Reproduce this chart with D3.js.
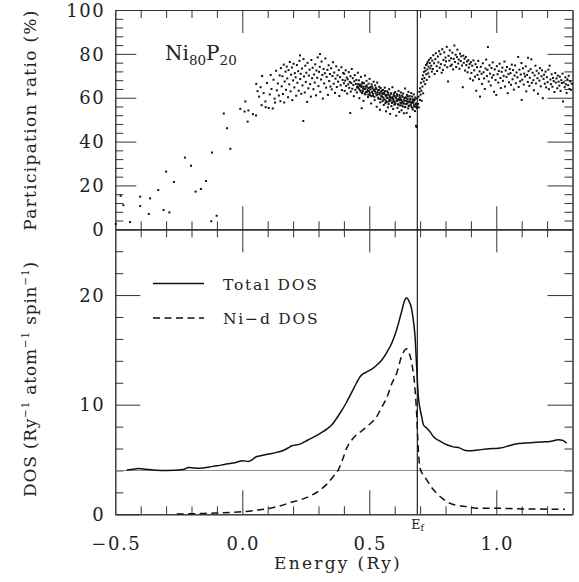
<!DOCTYPE html>
<html><head><meta charset="utf-8">
<script src="https://cdnjs.cloudflare.com/ajax/libs/d3/7.8.5/d3.min.js"></script>
<style>
html,body{margin:0;padding:0;background:#fff;}
svg{display:block;}
text{font-family:"DejaVu Serif",serif;fill:#222;}
</style></head>
<body>
<svg id="chart" width="579" height="582"></svg>
<script>
// ---------------- DATA ----------------
// Participation ratio scatter, [energy (Ry), ratio (%)]
const prSparse = [[-0.498,2.4],[-0.479,15.3],[-0.468,11],[-0.442,3.3],[-0.402,14.9],[-0.402,10.6],[-0.368,7],[-0.363,14.1],[-0.331,17.9],[-0.31,8.8],[-0.3,26.3],[-0.287,7.7],[-0.269,21.6],[-0.226,32.7],[-0.202,29],[-0.184,17.2],[-0.163,18.4],[-0.143,22],[-0.122,3.7],[-0.119,35],[-0.101,6.2],[-0.073,52.8],[-0.06,46.1],[-0.047,36.7]];
const prRise = [[-0.008,54.9],[0.009,53.7],[0.012,58.3],[0.021,49.1],[0.024,54.2],[0.042,52.5],[0.054,51.9],[0.055,66.3],[0.06,63],[0.066,60.5],[0.072,64.8],[0.076,56.6],[0.078,69.9],[0.084,62.1],[0.091,58.3],[0.092,55.7],[0.097,66.7],[0.104,55.3],[0.108,61.5],[0.112,70.4],[0.115,64],[0.12,55.1],[0.123,68.2],[0.127,59.6],[0.129,57.8],[0.133,72.3],[0.136,63.4],[0.14,66.5],[0.144,61],[0.147,70.2],[0.15,58.4]];
const prCloud1 = [[0.152,73.5],[0.155,65.2],[0.158,69.8],[0.16,61.7],[0.163,75.1],[0.165,57.8],[0.167,67.4],[0.17,71.9],[0.172,63.6],[0.175,74.2],[0.177,68.8],[0.18,60.2],[0.182,72.6],[0.185,66.1],[0.187,76.3],[0.19,62.9],[0.192,70.5],[0.195,73.8],[0.197,58.9],[0.2,67.9],[0.202,75.5],[0.205,64.7],[0.207,71.2],[0.21,69.3],[0.212,60.9],[0.215,74.9],[0.217,66.8],[0.22,72.1],[0.222,63.2],[0.225,76.8],[0.227,79.3],[0.228,68.5],[0.23,70.9],[0.232,61.8],[0.235,73.3],[0.237,65.6],[0.24,49.4],[0.241,77.6],[0.243,69.7],[0.246,62.4],[0.248,74.6],[0.25,67.2],[0.252,71.4],[0.255,58.1],[0.257,75.9],[0.26,64.3],[0.262,70.1],[0.265,72.8],[0.267,66.2],[0.27,60.5],[0.272,77.2],[0.275,68.9],[0.277,73.7],[0.28,63.9],[0.282,70.6],[0.285,66.9],[0.287,75.2],[0.29,61.1],[0.292,72.4],[0.295,69.1],[0.297,78.4],[0.3,65.3],[0.302,71.8],[0.305,74.1],[0.306,79.9],[0.307,62.7],[0.31,68.3],[0.312,76.5],[0.315,70.4],[0.317,59.6],[0.32,73.1],[0.322,66.5],[0.325,71.2],[0.327,77.9],[0.33,64.6],[0.332,69.5],[0.335,72.7],[0.337,61.3],[0.34,74.8],[0.342,67.6],[0.345,70.8],[0.347,65.1],[0.35,73.4],[0.352,63.8],[0.355,69.9],[0.357,76.2],[0.36,66.4],[0.362,71.5],[0.365,62.2],[0.367,68.7],[0.37,74.3],[0.372,64.9],[0.375,70.2],[0.377,67.3],[0.38,72.6],[0.382,60.8],[0.385,69.4],[0.387,65.7],[0.39,73.9],[0.392,63.5],[0.395,68.1],[0.397,71.3],[0.4,66.6]];
const prCloud2 = [[0.401,70.9],[0.403,63.1],[0.405,67.8],[0.407,72.5],[0.409,65.4],[0.411,69.2],[0.413,61.9],[0.415,68.4],[0.417,66.1],[0.419,71.7],[0.421,64.5],[0.423,67.2],[0.425,53.0],[0.426,69.8],[0.427,62.8],[0.429,66.7],[0.431,73.1],[0.433,64.1],[0.435,68.9],[0.437,65.8],[0.439,60.7],[0.441,67.5],[0.443,70.3],[0.445,63.6],[0.447,66.3],[0.449,68.1],[0.451,62.4],[0.453,65.1],[0.455,71.4],[0.457,64.8],[0.459,67.9],[0.461,59.8],[0.463,66.0],[0.465,63.3],[0.467,69.5],[0.469,65.5],[0.47,55.2],[0.471,62.1],[0.473,67.0],[0.475,64.2],[0.477,58.6],[0.479,66.6],[0.481,63.9],[0.483,70.1],[0.485,61.5],[0.487,65.2],[0.489,67.7],[0.491,62.7],[0.493,64.6],[0.495,60.3],[0.497,66.4],[0.499,63.0],[0.501,68.6],[0.503,61.2],[0.505,64.9],[0.507,57.4],[0.509,66.1],[0.511,62.6],[0.513,64.3],[0.515,60.9],[0.517,67.3],[0.519,63.7],[0.521,58.9],[0.523,65.6],[0.525,62.0],[0.527,64.0],[0.529,55.9],[0.531,66.9],[0.533,61.6],[0.535,63.4],[0.537,59.5],[0.539,65.0],[0.541,62.3],[0.542,54.5],[0.543,57.9],[0.545,64.4],[0.547,60.6],[0.549,63.2]];
const prCloud3 = [[0.551,61.8],[0.552,58.4],[0.554,63.5],[0.555,60.1],[0.557,56.7],[0.558,62.2],[0.56,59.3],[0.561,64.6],[0.563,57.5],[0.564,61.1],[0.566,53.8],[0.567,60.6],[0.569,58.0],[0.57,62.9],[0.572,59.8],[0.573,55.6],[0.575,61.4],[0.576,57.1],[0.578,63.9],[0.579,59.0],[0.581,60.4],[0.582,52.6],[0.584,58.7],[0.585,62.0],[0.587,56.2],[0.588,60.0],[0.59,57.8],[0.591,64.8],[0.593,59.5],[0.594,54.9],[0.596,61.2],[0.597,58.1],[0.599,56.8],[0.6,60.7],[0.602,62.6],[0.603,57.3],[0.605,59.7],[0.606,51.8],[0.608,58.5],[0.609,61.6],[0.611,55.4],[0.612,59.2],[0.614,57.0],[0.615,63.1],[0.617,58.9],[0.618,53.5],[0.62,60.3],[0.621,56.5],[0.623,59.6],[0.624,62.4],[0.626,57.6],[0.627,54.3],[0.629,60.9],[0.63,58.2],[0.632,56.0],[0.633,61.9],[0.635,58.8],[0.636,52.9],[0.638,59.9],[0.639,57.2],[0.641,64.2],[0.642,55.7],[0.644,60.2],[0.645,58.6],[0.647,53.1],[0.648,61.3],[0.65,57.4],[0.651,59.4],[0.653,55.1],[0.654,62.7],[0.656,58.3],[0.657,56.4],[0.659,60.8],[0.66,51.3],[0.662,59.1],[0.663,57.9],[0.665,62.1],[0.666,55.8],[0.668,58.0],[0.669,60.5],[0.671,54.6],[0.672,59.3],[0.674,57.7],[0.675,61.5],[0.677,56.1],[0.678,58.9],[0.68,53.9],[0.681,60.1],[0.683,57.0],[0.684,47.2],[0.686,46.6],[0.687,55.3],[0.688,59.7]];
const prDense = [[0.452,64.6],[0.456,66.2],[0.46,63.9],[0.463,65.4],[0.466,62.8],[0.469,64.9],[0.472,66.5],[0.475,63.1],[0.478,65.0],[0.481,61.9],[0.484,64.2],[0.487,62.6],[0.49,65.6],[0.493,63.5],[0.496,61.4],[0.499,64.4],[0.502,62.2],[0.505,63.8],[0.508,60.7],[0.511,65.1],[0.514,61.8],[0.517,63.3],[0.52,60.4],[0.523,62.9],[0.526,64.5],[0.529,61.1],[0.532,62.5],[0.535,60.0],[0.538,63.6],[0.541,61.5],[0.544,59.4],[0.547,62.8],[0.55,60.6],[0.553,62.0],[0.556,59.1],[0.559,61.7],[0.562,63.0],[0.565,58.6],[0.568,61.3],[0.571,59.9],[0.574,62.3],[0.577,58.3],[0.58,60.9],[0.583,59.6],[0.586,61.8],[0.589,57.7],[0.592,60.3],[0.595,58.9],[0.598,62.1],[0.601,57.2],[0.604,60.0],[0.607,58.4],[0.61,60.8],[0.613,56.9],[0.616,59.5],[0.619,61.2],[0.622,57.8],[0.625,59.0],[0.628,56.5],[0.631,60.4],[0.634,57.5],[0.637,58.7],[0.64,55.8],[0.643,59.8],[0.646,57.1],[0.649,58.3],[0.652,60.6],[0.655,56.2],[0.658,58.0],[0.661,59.6],[0.664,56.8],[0.667,57.6],[0.67,55.4],[0.673,58.5],[0.676,56.6],[0.679,59.2],[0.682,55.9],[0.685,57.4],[0.688,56.1]];
const prFermi = [[0.692,57.2],[0.694,60.5],[0.695,55.6],[0.697,62.7],[0.699,59.0],[0.7,64.3],[0.702,61.4],[0.703,66.8],[0.705,63.2],[0.706,58.6],[0.708,68.5],[0.709,65.1],[0.711,70.2],[0.712,62.0],[0.714,67.4],[0.715,71.8],[0.717,69.0],[0.718,73.6],[0.72,66.2],[0.721,72.3],[0.723,74.9],[0.724,70.7],[0.726,68.1],[0.727,75.5],[0.729,72.9],[0.73,76.4],[0.732,71.1],[0.733,74.2],[0.735,77.3],[0.736,69.6],[0.738,75.8],[0.74,73.4],[0.742,78.1],[0.744,74.6],[0.746,71.9],[0.748,76.9]];
const prCloud4 = [[0.75,73.1],[0.752,79.4],[0.755,75.7],[0.757,70.8],[0.76,77.6],[0.762,80.3],[0.765,74.4],[0.767,72.2],[0.77,78.8],[0.772,76.1],[0.775,81.2],[0.777,73.7],[0.78,79.9],[0.782,75.3],[0.785,71.4],[0.787,82.1],[0.79,72.7],[0.792,77.2],[0.795,80.7],[0.797,74.8],[0.8,78.3],[0.802,76.6],[0.805,83.2],[0.807,73.9],[0.81,67.4],[0.812,79.1],[0.815,76.9],[0.817,81.6],[0.82,74.5],[0.822,78.0],[0.825,75.1],[0.827,80.5],[0.83,72.9],[0.832,77.7],[0.835,83.8],[0.837,76.3],[0.84,79.6],[0.842,74.0],[0.845,78.5],[0.847,81.9],[0.85,75.6],[0.852,77.4],[0.855,73.2],[0.857,80.1],[0.86,76.7],[0.862,78.9],[0.865,74.7],[0.868,64.8],[0.87,79.2],[0.872,75.9],[0.875,77.8],[0.877,72.4],[0.88,78.6],[0.882,74.9],[0.885,76.5],[0.887,71.6],[0.89,77.1],[0.892,73.8],[0.895,75.4],[0.897,68.7],[0.9,76.2]];
const prCloud5 = [[0.902,71.3],[0.905,74.6],[0.908,67.9],[0.91,77.0],[0.913,72.5],[0.916,69.6],[0.918,75.3],[0.921,63.2],[0.924,73.9],[0.926,70.4],[0.929,76.8],[0.932,68.5],[0.934,72.0],[0.936,60.5],[0.939,74.1],[0.942,70.9],[0.944,66.3],[0.947,75.7],[0.95,71.6],[0.952,68.8],[0.955,64.0],[0.958,73.3],[0.96,77.4],[0.963,69.9],[0.965,72.7],[0.967,83.1],[0.97,67.4],[0.973,74.8],[0.975,71.0],[0.978,65.6],[0.981,73.6],[0.983,69.2],[0.986,76.1],[0.989,70.3],[0.991,62.7],[0.994,72.9],[0.997,68.1],[1.0,61.3],[1.002,74.4],[1.005,70.7],[1.008,66.9],[1.01,72.2],[1.013,75.5],[1.016,69.0],[1.018,64.4],[1.021,71.8],[1.024,73.7],[1.026,67.7],[1.029,70.0],[1.032,76.5],[1.034,65.1],[1.037,72.4],[1.04,69.5],[1.042,74.0],[1.045,62.1],[1.048,70.8],[1.05,67.0],[1.053,73.1],[1.056,71.2],[1.058,65.9],[1.061,75.1],[1.064,68.4],[1.066,72.6],[1.069,63.7],[1.072,70.1],[1.074,74.7],[1.077,66.6],[1.08,71.5],[1.083,69.3],[1.086,78.6],[1.088,64.9],[1.091,72.8],[1.094,67.5],[1.096,70.6],[1.099,75.8],[1.1,59.0],[1.102,68.2],[1.105,73.4],[1.108,66.0],[1.11,71.0],[1.113,69.7],[1.116,74.3],[1.118,62.9],[1.121,70.4],[1.124,67.2],[1.125,78.2],[1.127,72.1],[1.13,65.4],[1.132,69.1],[1.135,73.0],[1.138,77.5],[1.14,66.8],[1.143,71.4],[1.146,68.0],[1.148,63.4],[1.151,70.2],[1.154,74.6],[1.156,66.5],[1.159,72.3],[1.162,68.9],[1.164,61.8],[1.167,71.1],[1.17,67.8],[1.172,73.5],[1.175,65.2],[1.178,69.8],[1.18,72.5],[1.183,59.8],[1.186,68.6],[1.188,70.5],[1.191,66.4],[1.194,71.9],[1.196,64.7],[1.199,69.4],[1.202,67.1],[1.205,72.8],[1.207,63.9],[1.21,74.6],[1.213,68.3],[1.215,66.2],[1.218,70.7],[1.221,65.0],[1.223,69.0],[1.226,67.6],[1.229,62.6],[1.232,71.3],[1.234,66.9],[1.237,68.8],[1.24,64.3],[1.242,70.1],[1.245,67.3],[1.248,65.5],[1.25,69.6],[1.253,63.1],[1.256,68.0],[1.258,66.7],[1.261,71.0],[1.263,58.3],[1.266,67.0],[1.269,64.8],[1.272,69.3],[1.274,66.1],[1.277,62.2],[1.28,68.4],[1.283,65.7],[1.285,70.0],[1.288,64.0],[1.291,67.5],[1.294,63.6],[1.297,66.4]];

// Total DOS (solid)
const totalE   = [-0.455,-0.43,-0.41,-0.38,-0.35,-0.31,-0.27,-0.232,-0.213,-0.19,-0.167,-0.13,-0.1,-0.07,-0.035,0.004,0.024,0.04,0.057,0.08,0.109,0.135,0.161,0.18,0.195,0.227,0.26,0.29,0.319,0.35,0.385,0.41,0.43,0.45,0.465,0.49,0.51,0.529,0.55,0.568,0.59,0.608,0.625,0.641,0.647,0.655,0.667,0.675,0.68,0.687,0.693,0.7,0.706,0.713,0.726,0.74,0.752,0.78,0.805,0.83,0.857,0.875,0.896,0.92,0.94,0.962,0.99,1.015,1.05,1.08,1.11,1.146,1.18,1.211,1.244,1.26,1.277];
const totalDOS = [4.05,4.12,4.17,4.1,4.05,3.99,4.02,4.08,4.26,4.22,4.2,4.32,4.42,4.55,4.67,4.88,4.82,5.0,5.27,5.38,5.52,5.65,5.82,6.05,6.25,6.4,6.8,7.15,7.56,8.1,9.24,10.2,11.1,12.0,12.6,13.0,13.25,13.6,14.1,14.73,15.7,16.86,18.3,19.6,19.76,19.5,18.7,17.4,16.25,13.2,10.76,9.6,8.93,8.17,7.87,7.5,7.1,6.65,6.34,6.15,6.04,5.85,5.79,5.85,5.9,5.95,6.0,6.04,6.25,6.43,6.5,6.55,6.6,6.64,6.8,6.75,6.5];
// Ni-d DOS (dashed)
const nidE   = [-0.258,-0.2,-0.15,-0.1,-0.05,0.004,0.05,0.109,0.15,0.2,0.227,0.27,0.306,0.335,0.358,0.378,0.395,0.411,0.43,0.45,0.47,0.49,0.51,0.529,0.545,0.568,0.59,0.608,0.627,0.647,0.657,0.667,0.68,0.687,0.692,0.7,0.712,0.726,0.745,0.765,0.79,0.818,0.85,0.883,0.923,0.97,1.015,1.08,1.146,1.21,1.27];
const nidDOS = [0.03,0.05,0.08,0.12,0.17,0.24,0.36,0.55,0.78,1.15,1.31,1.7,2.22,2.8,3.44,4.05,5.0,6.04,6.75,7.26,7.6,8.0,8.4,8.9,9.6,10.6,12.0,12.9,14.4,15.1,14.7,13.8,11.4,8.93,6.3,4.2,3.6,3.14,2.45,1.92,1.4,1.0,0.8,0.7,0.55,0.55,0.55,0.5,0.48,0.47,0.46];

const fermiEnergy = 0.689;
const dosReference = 4;
const xTickValues = [-0.5, 0.0, 0.5, 1.0];
const xTickLabels = ["\u22120.5", "0.0", "0.5", "1.0"];
const prTickValues = [0, 20, 40, 60, 80, 100];
const dosTickValues = [0, 10, 20];
const legendLabels = ["Total DOS", "Ni\u2212d DOS"];

// ---------------- LAYOUT ----------------
const svg = d3.select("#chart");
const L = 115.3, R = 572.5, T = 10, M = 229.3, B = 514.3;
const x = d3.scaleLinear().domain([-0.5, 1.3]).range([L, R]);
const yPR = d3.scaleLinear().domain([0, 100]).range([M, T]);
const yDOS = d3.scaleLinear().domain([0, 26]).range([B, M]);

const axisColor = "#333";
const xMajor = [0.0, 0.5, 1.0];
const xMinor = d3.range(-4, 13).map(i => i / 10).filter(v => Math.abs(v * 2 - Math.round(v * 2)) > 1e-6);
const prMinor = d3.range(4, 100, 4).filter(v => v % 20 !== 0);
const dosMinor = d3.range(2, 26, 2).filter(v => v % 10 !== 0);

function drawAxis(axis, tx, ty) {
  const g = svg.append("g").attr("transform", `translate(${tx},${ty})`).call(axis);
  g.selectAll("path.domain").attr("stroke", axisColor).attr("stroke-width", 1);
  g.selectAll(".tick line").attr("stroke", axisColor).attr("stroke-width", 1);
  g.selectAll("text").remove();
  return g;
}
function noLabel(a){ return a.tickFormat("").tickSizeOuter(0); }

// ---- top panel frame ----
drawAxis(noLabel(d3.axisLeft(yPR).tickValues(prTickValues).tickSize(-21)), L, 0);
drawAxis(noLabel(d3.axisLeft(yPR).tickValues(prMinor).tickSize(-8)), L, 0);
drawAxis(noLabel(d3.axisRight(yPR).tickValues(prTickValues).tickSize(-25)), R, 0);
drawAxis(noLabel(d3.axisRight(yPR).tickValues(prMinor).tickSize(-8)), R, 0);
drawAxis(noLabel(d3.axisTop(x).tickValues(xMajor).tickSize(-23)), 0, T);
drawAxis(noLabel(d3.axisTop(x).tickValues(xMinor).tickSize(-8)), 0, T);
drawAxis(noLabel(d3.axisBottom(x).tickValues(xMajor).tickSize(-23)), 0, M);
drawAxis(noLabel(d3.axisBottom(x).tickValues(xMinor).tickSize(-8)), 0, M);

// ---- bottom panel frame ----
drawAxis(noLabel(d3.axisLeft(yDOS).tickValues(dosTickValues).tickSize(-25)), L, 0);
drawAxis(noLabel(d3.axisLeft(yDOS).tickValues(dosMinor).tickSize(-8)), L, 0);
drawAxis(noLabel(d3.axisRight(yDOS).tickValues(dosTickValues).tickSize(-25)), R, 0);
drawAxis(noLabel(d3.axisRight(yDOS).tickValues(dosMinor).tickSize(-8)), R, 0);
drawAxis(noLabel(d3.axisTop(x).tickValues(xMajor).tickSize(-23)), 0, M);
drawAxis(noLabel(d3.axisTop(x).tickValues(xMinor).tickSize(-8)), 0, M);
drawAxis(noLabel(d3.axisBottom(x).tickValues(xMajor).tickSize(-24)), 0, B);
drawAxis(noLabel(d3.axisBottom(x).tickValues(xMinor).tickSize(-8)), 0, B);

// ---- tick labels ----
const tickFont = {size: 18, ls: 1.6};
svg.append("g").selectAll("text").data(prTickValues).join("text")
  .attr("x", L - 10).attr("y", d => yPR(d) + 6.7)
  .attr("text-anchor", "end").attr("font-size", tickFont.size).attr("letter-spacing", tickFont.ls)
  .text(d => d);
svg.append("g").selectAll("text").data(dosTickValues).join("text")
  .attr("x", L - 10).attr("y", d => yDOS(d) + 6.7)
  .attr("text-anchor", "end").attr("font-size", tickFont.size).attr("letter-spacing", tickFont.ls)
  .text(d => d);
svg.append("g").selectAll("text").data(xTickValues).join("text")
  .attr("x", (d) => x(d) + 1).attr("y", 549.5)
  .attr("text-anchor", "middle").attr("font-size", tickFont.size).attr("letter-spacing", tickFont.ls)
  .text((d, i) => xTickLabels[i]);

// ---- reference lines ----
svg.append("line").attr("x1", L).attr("x2", R).attr("y1", yDOS(dosReference)).attr("y2", yDOS(dosReference))
  .attr("stroke", "#888").attr("stroke-width", 1);
svg.append("line").attr("x1", x(fermiEnergy)).attr("x2", x(fermiEnergy)).attr("y1", T).attr("y2", B)
  .attr("stroke", "#111").attr("stroke-width", 1.1);

// ---- scatter ----
const prAll = [].concat(prSparse, prRise, prCloud1, prCloud2, prCloud3, prDense, prFermi, prCloud4, prCloud5);
svg.append("g").selectAll("rect").data(prAll).join("rect")
  .attr("x", d => x(d[0]) - 1).attr("y", d => yPR(d[1]) - 1)
  .attr("width", 2).attr("height", 2).attr("fill", "#111");

// ---- DOS curves ----
const line = d3.line().x(d => x(d[0])).y(d => yDOS(d[1])).curve(d3.curveMonotoneX);
svg.append("path").datum(totalE.map((e, i) => [e, totalDOS[i]]))
  .attr("d", line).attr("fill", "none").attr("stroke", "#111").attr("stroke-width", 1.5);
svg.append("path").datum(nidE.map((e, i) => [e, nidDOS[i]]))
  .attr("d", line).attr("fill", "none").attr("stroke", "#111").attr("stroke-width", 1.5)
  .attr("stroke-dasharray", "7,4.5");

// ---- legend ----
const legY = [283.5, 318];
const legDash = ["none", "7,4.5"];
legendLabels.forEach((lab, i) => {
  svg.append("line").attr("x1", 153).attr("x2", 204).attr("y1", legY[i]).attr("y2", legY[i])
    .attr("stroke", "#111").attr("stroke-width", 1.5).attr("stroke-dasharray", legDash[i]);
  svg.append("text").attr("x", 223).attr("y", legY[i] + 6).attr("font-size", 15.5)
    .attr("letter-spacing", 1.8).text(lab);
});

// ---- annotation Ni80P20 ----
const comp = svg.append("text").attr("x", 165).attr("y", 60).attr("font-size", 20);
comp.append("tspan").text("Ni");
comp.append("tspan").attr("font-size", 13.5).attr("dy", 5).text("80");
comp.append("tspan").attr("dy", -5).text("P");
comp.append("tspan").attr("font-size", 13.5).attr("dy", 5).text("20");

// E_f label
const ef = svg.append("text").attr("x", x(fermiEnergy) - 6).attr("y", 528.5).attr("font-size", 12.5);
ef.append("tspan").text("E");
ef.append("tspan").attr("font-size", 9).attr("dy", 2).text("f");

// ---- axis titles ----
svg.append("text").attr("x", 338).attr("y", 569).attr("text-anchor", "middle")
  .attr("font-size", 17).attr("letter-spacing", 2.3).text("Energy (Ry)");
svg.append("text").attr("transform", "translate(36,120) rotate(-90)").attr("text-anchor", "middle")
  .attr("font-size", 17).attr("letter-spacing", 1.3).text("Participation ratio (%)");
const dl = svg.append("text").attr("transform", "translate(36,379) rotate(-90)").attr("text-anchor", "middle")
  .attr("font-size", 17).attr("letter-spacing", 0.8);
dl.append("tspan").text("DOS (Ry");
dl.append("tspan").attr("font-size", 10.5).attr("dy", -7).text("\u22121");
dl.append("tspan").attr("dy", 7).text(" atom");
dl.append("tspan").attr("font-size", 10.5).attr("dy", -7).text("\u22121");
dl.append("tspan").attr("dy", 7).text(" spin");
dl.append("tspan").attr("font-size", 10.5).attr("dy", -7).text("\u22121");
dl.append("tspan").attr("dy", 7).text(")");
</script>
</body></html>
